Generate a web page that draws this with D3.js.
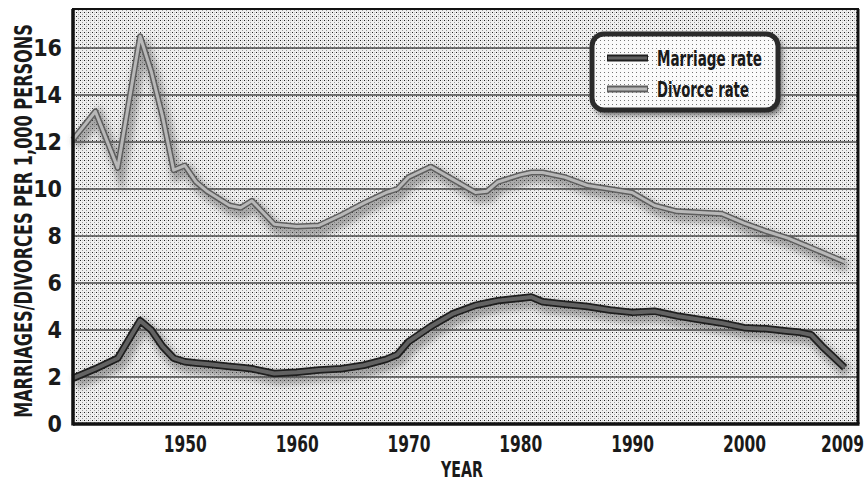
<!DOCTYPE html>
<html>
<head>
<meta charset="utf-8">
<script src="https://cdn.jsdelivr.net/npm/d3@7"></script>
<style>
  body { margin: 0; background: #fff; }
  text { font-family: "DejaVu Sans", sans-serif; font-stretch: condensed; font-weight: bold; fill: #1a1a1a; }
</style>
</head>
<body>
<div id="root"></div>
<script>
const years = [1940, 1942, 1944, 1946, 1947, 1948, 1949, 1950, 1951, 1952, 1954, 1955, 1956, 1958, 1960,
  1962, 1964, 1966, 1968, 1969, 1970, 1972, 1974, 1976, 1977, 1978, 1980, 1981, 1982, 1984, 1986,
  1988, 1990, 1992, 1994, 1996, 1998, 2000, 2002, 2004, 2005, 2006, 2007, 2008, 2009];

const marriageRate = [1.95, 2.35, 2.8, 4.4, 4.0, 3.3, 2.8, 2.65, 2.6, 2.55, 2.45, 2.4, 2.35, 2.15, 2.2,
  2.3, 2.35, 2.5, 2.75, 2.95, 3.5, 4.15, 4.7, 5.05, 5.15, 5.25, 5.35, 5.4, 5.2, 5.1, 5.0,
  4.85, 4.75, 4.8, 4.6, 4.45, 4.3, 4.1, 4.05, 3.95, 3.9, 3.8, 3.3, 2.85, 2.4];

const divorceRate = [12.1, 13.3, 10.9, 16.5, 15.0, 13.1, 10.8, 11.0, 10.3, 9.9, 9.3, 9.2, 9.5, 8.5, 8.4,
  8.45, 8.9, 9.4, 9.85, 10.0, 10.5, 10.95, 10.4, 9.85, 9.9, 10.3, 10.6, 10.7, 10.7, 10.5, 10.15,
  10.0, 9.85, 9.3, 9.05, 9.0, 8.95, 8.55, 8.2, 7.9, 7.7, 7.5, 7.3, 7.1, 6.9];

const xTicks = [1950, 1960, 1970, 1980, 1990, 2000, 2009];
const yTicks = [0, 2, 4, 6, 8, 10, 12, 14, 16];
const seriesNames = ["Marriage rate", "Divorce rate"];

const width = 868;
const height = 489;
const plot = { left: 73, right: 858, top: 9, bottom: 424 };

const x = d3.scaleLinear().domain([1940, 2010.2]).range([plot.left, plot.right]);
const y = d3.scaleLinear().domain([0, 17.66]).range([plot.bottom, plot.top]);

const svg = d3.select("#root").append("svg")
  .attr("width", width)
  .attr("height", height);

// squeeze a text horizontally to a target width (the print uses a condensed face)
function squeeze(sel, target) {
  sel.each(function () {
    const len = this.getComputedTextLength();
    const s = target / len;
    const t = d3.select(this);
    const x0 = +t.attr("x") || 0;
    t.attr("x", x0 / s).attr("transform", `scale(${s},1)`);
  });
}

const defs = svg.append("defs");

// stippled print background
const pat = defs.append("pattern")
  .attr("id", "stipple")
  .attr("width", 4).attr("height", 4)
  .attr("patternUnits", "userSpaceOnUse");
pat.append("rect").attr("width", 4).attr("height", 4).attr("fill", "#efefef");
pat.append("rect").attr("x", 0).attr("y", 0).attr("width", 1).attr("height", 1).attr("fill", "#222");
pat.append("rect").attr("x", 2).attr("y", 2).attr("width", 1).attr("height", 1).attr("fill", "#9a9a9a");
pat.append("rect").attr("x", 2).attr("y", 0).attr("width", 1).attr("height", 1).attr("fill", "#c8c8c8");

const lightPat = defs.append("pattern")
  .attr("id", "stippleLight")
  .attr("width", 4).attr("height", 4)
  .attr("patternUnits", "userSpaceOnUse");
lightPat.append("rect").attr("width", 4).attr("height", 4).attr("fill", "#fafafa");
lightPat.append("rect").attr("x", 0).attr("y", 0).attr("width", 1).attr("height", 1).attr("fill", "#777");

const blur = defs.append("filter").attr("id", "shadow")
  .attr("x", "-10%").attr("y", "-30%").attr("width", "120%").attr("height", "160%");
blur.append("feGaussianBlur").attr("stdDeviation", 3);

svg.append("rect")
  .attr("x", plot.left).attr("y", plot.top)
  .attr("width", plot.right - plot.left).attr("height", plot.bottom - plot.top)
  .attr("fill", "url(#stipple)");

// gridlines
svg.append("g")
  .selectAll("line")
  .data(yTicks.filter((d) => d > 0))
  .enter()
  .append("line")
  .attr("x1", plot.left).attr("x2", plot.right)
  .attr("y1", (d) => y(d)).attr("y2", (d) => y(d))
  .attr("stroke", "#4a4a4a")
  .attr("stroke-width", 1.5);

const line = d3.line()
  .x((d) => x(d[0]))
  .y((d) => y(d[1]));

const marriageData = years.map((yr, i) => [yr, marriageRate[i]]);
const divorceData = years.map((yr, i) => [yr, divorceRate[i]]);

function drawSeries(data, outer, inner, outerW, innerW) {
  const g = svg.append("g");
  g.append("path").datum(data)
    .attr("d", line)
    .attr("fill", "none")
    .attr("stroke", "#555")
    .attr("stroke-opacity", 0.5)
    .attr("stroke-width", outerW + 5)
    .attr("transform", "translate(3,5)")
    .attr("filter", "url(#shadow)");
  g.append("path").datum(data)
    .attr("d", line)
    .attr("fill", "none")
    .attr("stroke", outer)
    .attr("stroke-width", outerW)
    .attr("stroke-linejoin", "round");
  g.append("path").datum(data)
    .attr("d", line)
    .attr("fill", "none")
    .attr("stroke", inner)
    .attr("stroke-width", innerW)
    .attr("stroke-linejoin", "round");
}

drawSeries(divorceData, "#5e5e5e", "#b8b8b8", 6, 3);
drawSeries(marriageData, "#1e1e1e", "#626262", 7.5, 4);

// plot frame
svg.append("rect")
  .attr("x", plot.left).attr("y", plot.top)
  .attr("width", plot.right - plot.left).attr("height", plot.bottom - plot.top)
  .attr("fill", "none")
  .attr("stroke", "#111")
  .attr("stroke-width", 2);
svg.append("line")
  .attr("x1", plot.left).attr("x2", plot.left)
  .attr("y1", plot.top).attr("y2", plot.bottom + 1.5)
  .attr("stroke", "#111").attr("stroke-width", 3.5);
svg.append("line")
  .attr("x1", plot.left).attr("x2", plot.right + 1.5)
  .attr("y1", plot.bottom).attr("y2", plot.bottom)
  .attr("stroke", "#111").attr("stroke-width", 3.5);
svg.append("line")
  .attr("x1", plot.right).attr("x2", plot.right)
  .attr("y1", plot.top).attr("y2", plot.bottom)
  .attr("stroke", "#111").attr("stroke-width", 3);

// axes
const xAxis = d3.axisBottom(x).tickValues(xTicks).tickFormat(d3.format("d")).tickSize(0).tickPadding(11);
const yAxis = d3.axisLeft(y).tickValues(yTicks).tickSize(0).tickPadding(10);

const gx = svg.append("g")
  .attr("transform", `translate(0, ${plot.bottom + 1})`)
  .call(xAxis);
gx.select(".domain").remove();
gx.selectAll("text")
  .style("font-size", "23px")
  .attr("fill", "#1a1a1a");
// last label sits against the right edge, as in the print
gx.selectAll(".tick")
  .filter((d) => d === 2009)
  .select("text")
  .attr("text-anchor", "end")
  .attr("x", 19);
squeeze(gx.selectAll("text"), 43);

const gy = svg.append("g")
  .attr("transform", `translate(${plot.left - 1}, 0)`)
  .call(yAxis);
gy.select(".domain").remove();
gy.selectAll("text")
  .style("font-size", "23px")
  .attr("fill", "#1a1a1a");

const yearLabel = svg.append("g")
  .attr("transform", "translate(462, 477)")
  .append("text")
  .attr("text-anchor", "middle")
  .style("font-size", "21px")
  .text("YEAR");
squeeze(yearLabel, 42);

const yTitle = svg.append("g")
  .attr("transform", "translate(32, 221) rotate(-90)")
  .append("text")
  .attr("text-anchor", "middle")
  .style("font-size", "24px")
  .text("MARRIAGES/DIVORCES PER 1,000 PERSONS");
squeeze(yTitle, 394);

// legend
const legend = svg.append("g");
legend.append("rect")
  .attr("x", 594).attr("y", 37)
  .attr("width", 188).attr("height", 78)
  .attr("rx", 12)
  .attr("fill", "#666")
  .attr("filter", "url(#shadow)");
legend.append("rect")
  .attr("x", 592).attr("y", 34)
  .attr("width", 186).attr("height", 76)
  .attr("rx", 12)
  .attr("fill", "url(#stippleLight)")
  .attr("stroke", "#2a2a2a")
  .attr("stroke-width", 5);

const legendStyles = [
  { outer: "#1e1e1e", inner: "#626262", len: 105 },
  { outer: "#5e5e5e", inner: "#b8b8b8", len: 92 },
];
const items = legend.selectAll(".item")
  .data(seriesNames)
  .enter()
  .append("g")
  .attr("class", "item")
  .attr("transform", (d, i) => `translate(607, ${58 + i * 31})`);
items.append("line")
  .attr("x1", 0).attr("x2", 41)
  .attr("stroke", (d, i) => legendStyles[i].outer)
  .attr("stroke-width", 7);
items.append("line")
  .attr("x1", 1).attr("x2", 40)
  .attr("stroke", (d, i) => legendStyles[i].inner)
  .attr("stroke-width", 3);
items.append("text")
  .attr("x", 50)
  .attr("y", 8)
  .style("font-size", "22px")
  .text((d) => d)
  .each(function (d, i) {
    squeeze(d3.select(this), legendStyles[i].len);
  });
</script>
</body>
</html>
